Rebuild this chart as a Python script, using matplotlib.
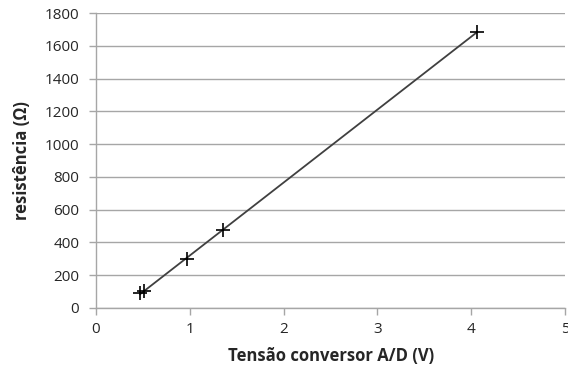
import numpy as np
import matplotlib
matplotlib.use("Agg")
import matplotlib.pyplot as plt

plt.rcParams['font.family'] = ['Open Sans', 'DejaVu Sans']

tensao = [0.47, 0.51, 0.97, 1.35, 4.06]
resistencia = [91, 104, 297, 476, 1685]
xticks = [0, 1, 2, 3, 4, 5]
yticks = [0, 200, 400, 600, 800, 1000, 1200, 1400, 1600, 1800]

fig = plt.figure(figsize=(5.68, 3.76), dpi=100)
ax = fig.add_axes([0.169, 0.181, 0.826, 0.784])

coef = np.polyfit(tensao, resistencia, 1)
xl = np.array([min(tensao), max(tensao)])
ax.plot(xl, np.polyval(coef, xl), color='#404040', lw=1.3, zorder=3)
ax.plot(tensao, resistencia, linestyle='none', marker='+', markersize=10,
        markeredgewidth=1.2, color='black', zorder=4)

ax.set_xlim(0, 5)
ax.set_ylim(0, 1800)
ax.set_xticks(xticks)
ax.set_yticks(yticks)
ax.yaxis.grid(True, color='#a6a6a6', lw=1)
ax.set_axisbelow(True)
for s in ['top', 'right']:
    ax.spines[s].set_visible(False)
for s in ['left', 'bottom']:
    ax.spines[s].set_color('#a6a6a6')
    ax.spines[s].set_linewidth(1)
ax.tick_params(axis='both', colors='#a6a6a6', length=5, width=1,
               labelcolor='#262626', labelsize=11)
ax.tick_params(axis='y', pad=7)
ax.tick_params(axis='x', pad=5)

ax.set_xlabel('Tensão conversor A/D (V)', fontsize=12, fontweight='bold',
              color='#262626', labelpad=7)
ax.set_ylabel('resistência (Ω)', fontsize=12, fontweight='bold',
              color='#262626', labelpad=10)

fig.savefig('out.png', dpi=100)
